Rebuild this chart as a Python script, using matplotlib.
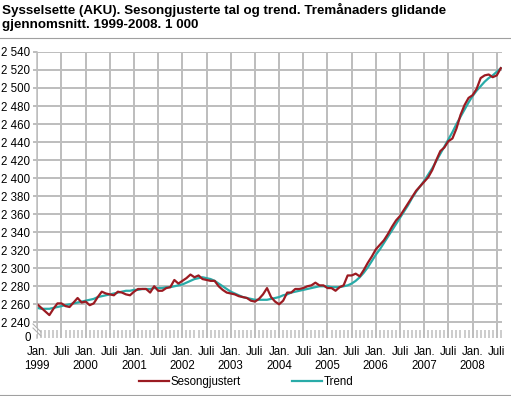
import matplotlib
matplotlib.use("Agg")
import matplotlib.pyplot as plt
from matplotlib.lines import Line2D

plt.rcParams['font.family'] = ['Liberation Sans', 'DejaVu Sans']

# Monthly series, Jan 1999 .. Aug 2008 (1 000 persons)
sesongjustert = [
    2260, 2256, 2252, 2248, 2255, 2261, 2261, 2258, 2257, 2262, 2267, 2262,   # 1999
    2263, 2259, 2261, 2268, 2274, 2272, 2271, 2270, 2274, 2273, 2271, 2270,   # 2000
    2274, 2277, 2277, 2277, 2273, 2280, 2275, 2275, 2278, 2279, 2287, 2283,   # 2001
    2286, 2289, 2293, 2290, 2292, 2288, 2287, 2286, 2286, 2280, 2276, 2273,   # 2002
    2272, 2271, 2269, 2268, 2267, 2264, 2263, 2266, 2271, 2278, 2268, 2263,   # 2003
    2260, 2264, 2273, 2273, 2277, 2277, 2278, 2280, 2281, 2284, 2281, 2281,   # 2004
    2278, 2278, 2275, 2279, 2281, 2292, 2292, 2294, 2291, 2298, 2306, 2313,   # 2005
    2321, 2326, 2331, 2338, 2346, 2353, 2358, 2365, 2372, 2379, 2386, 2391,   # 2006
    2396, 2401, 2409, 2420, 2430, 2434, 2441, 2444, 2455, 2470, 2481, 2489,   # 2007
    2492, 2499, 2511, 2514, 2515, 2512, 2514, 2522,                           # 2008
]
trend = [
    2256, 2255, 2255, 2255, 2256, 2257, 2258, 2259, 2260, 2261, 2262, 2263,
    2264, 2265, 2266, 2268, 2269, 2270, 2271, 2272, 2273, 2274, 2275, 2275,
    2276, 2276, 2277, 2277, 2277, 2278, 2278, 2278, 2279, 2279, 2280, 2281,
    2282, 2284, 2286, 2288, 2289, 2290, 2289, 2288, 2286, 2283, 2280, 2277,
    2274, 2272, 2270, 2268, 2267, 2266, 2265, 2265, 2265, 2265, 2266, 2267,
    2268, 2270, 2271, 2273, 2274, 2275, 2276, 2277, 2278, 2279, 2280, 2280,
    2280, 2279, 2279, 2279, 2280, 2281, 2283, 2286, 2290, 2295, 2301, 2308,
    2315, 2321, 2328, 2335, 2342, 2349, 2356, 2363, 2370, 2378, 2385, 2391,
    2397, 2404, 2411, 2419, 2427, 2435, 2443, 2451, 2460, 2468, 2476, 2484,
    2491, 2497, 2502, 2507, 2511, 2514, 2518, 2522,
]
years = [str(y) for y in range(1999, 2009)]
yticks = list(range(2240, 2541, 20))
title = "Sysselsette (AKU). Sesongjusterte tal og trend. Tremånaders glidande\ngjennomsnitt. 1999-2008. 1 000"

RED = "#9b1b22"
TEAL = "#29aba8"
GRID = "#bebebe"
GLW = 1.44  # ~2 px

W, H = 511, 396
fig = plt.figure(figsize=(W / 100, H / 100), dpi=100)

def px(x, y):
    return x / W, 1 - y / H

ax_l, ax_t = px(37.3, 51.5)
ax_r, ax_b = px(502, 338)
ax = fig.add_axes([ax_l, ax_b, ax_r - ax_l, ax_t - ax_b])
ax.set_axisbelow(True)

months = list(range(len(sesongjustert)))
ax.plot(months, trend, color=TEAL, lw=1.6, zorder=3)
ax.plot(months, sesongjustert, color=RED, lw=1.6, solid_joinstyle='round', zorder=4)

ymin, ymax = 2222.6, 2540.5
ax.set_ylim(ymin, ymax)
ax.set_xlim(0, 115.3)

ax.set_yticks(yticks)
ax.set_yticklabels([f"{v // 1000} {v % 1000:03d}" for v in yticks])

major = list(range(0, 115, 6))
labels = []
for m in major:
    if m % 12 == 0:
        labels.append("Jan.\n" + years[m // 12])
    else:
        labels.append("Juli")
ax.set_xticks(major)
ax.set_xticklabels(labels, linespacing=1.15)
ax.set_xticks(months, minor=True)

ax.grid(True, which='major', axis='both', color=GRID, linewidth=GLW)
ax.grid(False, which='minor')

ax.tick_params(axis='x', which='major', length=0, pad=6, labelsize=8.3, colors='#000000')
ax.tick_params(axis='x', which='minor', direction='in', length=6, width=1.1, color=GRID)
ax.tick_params(axis='y', which='major', length=3, width=GLW, color=GRID, pad=2,
               labelsize=8.3, labelcolor='#000000')

for s in ['top', 'right', 'bottom', 'left']:
    ax.spines[s].set_visible(False)

# "0" label at bottom of the broken axis
zx, zy = px(31, 338)
fig.text(zx, zy, "0", ha='right', va='center', fontsize=8.3)

# left axis line with break marks
ax.plot([0, 0], [2236, ymax], color=GRID, lw=1.1, clip_on=False, zorder=5)
ax.plot([0, 0], [ymin, 2226], color=GRID, lw=1.1, clip_on=False, zorder=5)
for dy in (0, 4):
    x0, y0 = px(33, 324 + dy)
    x1, y1 = px(41, 332 + dy)
    fig.add_artist(Line2D([x0, x1], [y0, y1], color='#b0b0b0', lw=0.8))

# title, fitted to the reference width
t = fig.text(2 / W, 1 - 3 / H, title, ha='left', va='top', fontsize=10,
             fontweight='bold', linespacing=1.22)
fig.canvas.draw()
bb = t.get_window_extent(renderer=fig.canvas.get_renderer())
t.set_fontsize(10 * 446.0 / bb.width)

# separators
fig.add_artist(Line2D([0, 1], [1 - 37.5 / H] * 2, color='#a0a0a0', lw=0.8))
fig.add_artist(Line2D([0, 1], [1 - 394.5 / H] * 2, color='#a0a0a0', lw=0.8))

# legend
handles = [Line2D([], [], color=RED, lw=1.6), Line2D([], [], color=TEAL, lw=1.6)]
fig.legend(handles, ["Sesongjustert", "Trend"], loc='center',
           bbox_to_anchor=(246 / W, 1 - 382 / H), ncol=2, frameon=False,
           fontsize=8.3, handlelength=2.6, handletextpad=0.15, columnspacing=4.4)

fig.savefig("out.png", dpi=100)
